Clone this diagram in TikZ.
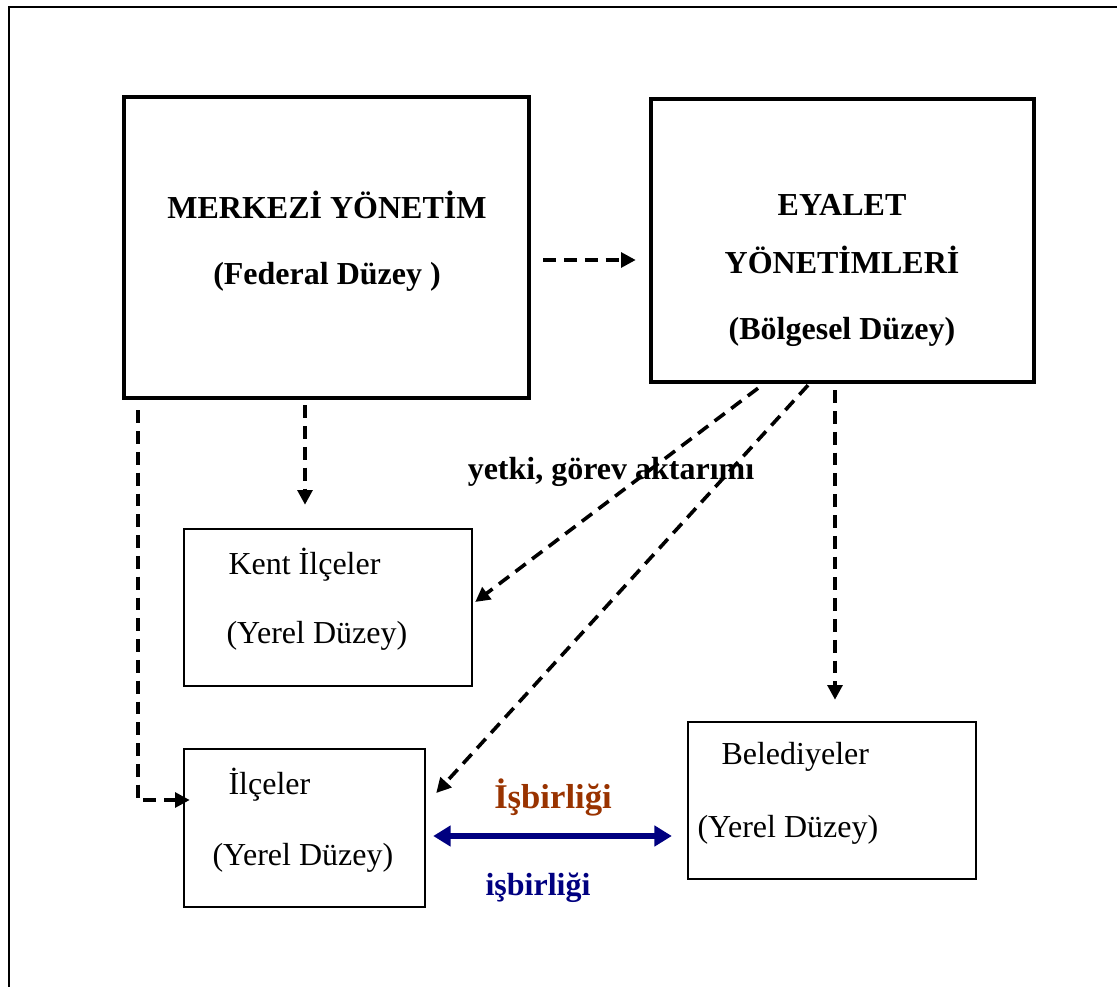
\documentclass[tikz,border=0pt]{standalone}
\usepackage{fontspec}
\setmainfont{Liberation Serif}
\usepackage{tikz}
\usetikzlibrary{arrows.meta, positioning, calc}
\definecolor{NavyBlue}{HTML}{000080}
\definecolor{Rust}{HTML}{993300}
\newcommand{\twelve}{\fontsize{12}{14}\selectfont}

\begin{document}
\begin{tikzpicture}[
    x=0.375pt, y=-0.375pt,
    bigbox/.style={rectangle, draw, line width=1.7pt, inner sep=0pt},
    smallbox/.style={rectangle, draw, line width=0.9pt, inner sep=0pt},
    head/.style={font=\twelve\bfseries, inner sep=0pt},
    txt/.style={font=\twelve, anchor=west, inner sep=0pt},
    dasharrow/.style={line width=1.35pt, dash pattern=on 4.8pt off 3pt,
                      -{Triangle[length=5.5pt, width=5.5pt]}},
    coop/.style={line width=2pt, NavyBlue,
                 {Triangle[length=6.5pt, width=7.5pt]}-{Triangle[length=6.5pt, width=7.5pt]}}
]
    \useasboundingbox (0,0) rectangle (1117,987);

    % Frame
    \draw[line width=0.9pt] (9,987) -- (9,7) -- (1117,7);

    % Upper level
    \node[bigbox, minimum width=151.9pt, minimum height=112.9pt] (merkezi) at (326.5,247.5) {};
    \node[bigbox, minimum width=143.6pt, minimum height=106.1pt] (eyalet) at (842.5,240.5) {};
    \node[head] (merkezi1) at (327,205) {MERKEZİ YÖNETİM};
    \node[head] (merkezi2) at (327,277) {(Federal Düzey )};
    \node[head] (eyalet1) at (842,205) {EYALET};
    \node[head] (eyalet2) at (842,260) {YÖNETİMLERİ};
    \node[head] (eyalet3) at (842,332) {(Bölgesel Düzey)};

    % Local level
    \node[smallbox, minimum width=108pt, minimum height=58.9pt] (kent) at (328,607.5) {};
    \node[smallbox, minimum width=90.4pt, minimum height=59.3pt] (ilceler) at (304.5,828) {};
    \node[smallbox, minimum width=108pt, minimum height=58.9pt] (belediye) at (832,800.5) {};
    \node[txt] (kent1) at (228,565) {Kent İlçeler};
    \node[txt] (kent2) at (226,636) {(Yerel Düzey)};
    \node[txt] (ilceler1) at (228,785) {İlçeler};
    \node[txt] (ilceler2) at (212,858) {(Yerel Düzey)};
    \node[txt] (belediye1) at (721,757) {Belediyeler};
    \node[txt] (belediye2) at (697,830) {(Yerel Düzey)};

    % Transfer arrows
    \draw[dasharrow] ($(merkezi.east)+(12,12.5)$) -- ($(eyalet.west)+(-13,19.5)$);
    \draw[dasharrow] ($(merkezi.south)+(-21.5,5)$) -- ($(kent.north)+(-23,-23)$);
    \draw[dasharrow] ($(merkezi.south west)+(16,10)$) |- ($(ilceler.west)+(7,-28)$);
    \draw[dasharrow] ($(eyalet.south)+(-84.5,4)$) -- ($(kent.east)+(2,-5.5)$);
    \draw[dasharrow] ($(eyalet.south)+(-34.5,1)$) -- ($(ilceler.east)+(10,-35)$);
    \draw[dasharrow] ($(eyalet.south)+(-7.5,6)$) -- ($(belediye.north)+(3,-21)$);
    \node[head] (yetki) at (611,472) {yetki, görev aktarımı};

    % Cooperation
    \draw[coop] ($(ilceler.east)+(7,8)$) -- ($(belediye.west)+(-15,35.5)$);
    \node[head, font=\fontsize{13}{15}\selectfont\bfseries, text=Rust] (isbirligi1) at (553,797) {İşbirliği};
    \node[head, text=NavyBlue] (isbirligi2) at (538,888) {işbirliği};
\end{tikzpicture}
\end{document}
